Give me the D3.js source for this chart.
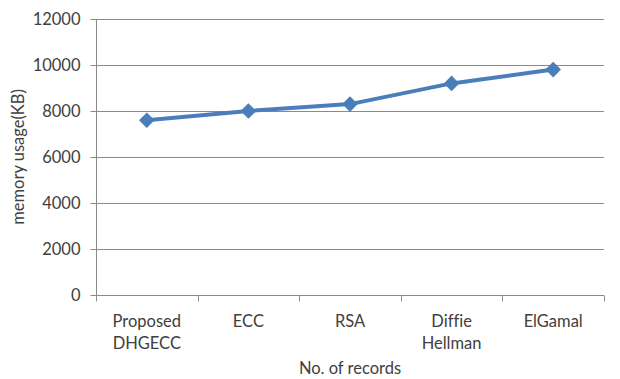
<!DOCTYPE html>
<html>
<head>
<meta charset="utf-8">
<script src="https://cdn.jsdelivr.net/npm/d3@7"></script>
<style>
  html, body { margin: 0; padding: 0; background: #fff; }
  svg { display: block; }
  text { font-family: Lato, "Open Sans", sans-serif; fill: #404040; font-variant-ligatures: none; }
</style>
</head>
<body>
<svg id="chart" width="620" height="379"></svg>
<script>
// Memory usage per scheme
const categories = [["Proposed", "DHGECC"], ["ECC"], ["RSA"], ["Diffie", "Hellman"], ["ElGamal"]];
const memoryKB = [7600, 8000, 8300, 9200, 9800];
const yTicks = [0, 2000, 4000, 6000, 8000, 10000, 12000];

const svg = d3.select("#chart");
const margin = { left: 96, right: 16, top: 19, bottom: 84 };
const W = 620, H = 379;
const x0 = margin.left, x1 = W - margin.right, y0 = H - margin.bottom, y1 = margin.top;
const fs = 16.5;

const keys = categories.map((c, i) => i);
const x = d3.scaleBand().domain(keys).range([x0, x1]);
const y = d3.scaleLinear().domain([0, 12000]).range([y0, y1]);

const gridColor = "#8a8a8a";

// horizontal gridlines
svg.append("g").selectAll("line").data(yTicks.filter(t => t > 0)).join("line")
  .attr("x1", x0).attr("x2", x1)
  .attr("y1", d => Math.round(y(d)) + 0.5).attr("y2", d => Math.round(y(d)) + 0.5)
  .attr("stroke", gridColor).attr("stroke-width", 1);

// y axis
const yAxis = svg.append("g").attr("transform", `translate(${x0 + 0.5},0)`)
  .call(d3.axisLeft(y).tickValues(yTicks).tickSize(6).tickPadding(10).tickFormat(d3.format("d")));
yAxis.select(".domain").attr("stroke", gridColor).attr("d", `M0,${y1}V${y0 + 6}`);
yAxis.selectAll(".tick line").attr("stroke", gridColor);
yAxis.selectAll(".tick text").attr("font-size", fs).attr("font-family", "Lato").attr("fill", "#404040");

// x axis
const xAxisG = svg.append("g").attr("transform", `translate(0,${Math.round(y0) + 0.5})`);
xAxisG.append("line").attr("x1", x0).attr("x2", x1).attr("stroke", gridColor);
const bounds = keys.map(k => x(k)).concat([x1]);
xAxisG.selectAll("line.tk").data(bounds).join("line").attr("class", "tk")
  .attr("x1", d => Math.round(d) + 0.5).attr("x2", d => Math.round(d) + 0.5)
  .attr("y1", 0).attr("y2", 6).attr("stroke", gridColor);
const lbl = xAxisG.selectAll("text.cat").data(categories).join("text").attr("class", "cat")
  .attr("text-anchor", "middle").attr("font-size", fs)
  .attr("x", (d, i) => x(i) + x.bandwidth() / 2)
  .attr("y", 31);
lbl.selectAll("tspan").data(d => d).join("tspan")
  .attr("x", function() { return d3.select(this.parentNode).attr("x"); })
  .attr("dy", (d, i) => i === 0 ? 0 : 22)
  .text(d => d);

// axis titles
svg.append("text").attr("x", (x0 + x1) / 2).attr("y", 374).attr("text-anchor", "middle")
  .attr("font-size", fs).text("No. of records");
svg.append("text").attr("transform", `translate(24,${(y0 + y1) / 2}) rotate(-90)`)
  .attr("text-anchor", "middle").attr("font-size", fs).text("memory usage(KB)");

// series line
const cx = i => x(i) + x.bandwidth() / 2;
const lineColor = "#4a7ebb";
svg.append("path").datum(memoryKB)
  .attr("d", d3.line().x((d, i) => cx(i)).y(d => y(d)))
  .attr("fill", "none").attr("stroke", lineColor).attr("stroke-width", 4)
  .attr("stroke-linejoin", "round");

// diamond markers
svg.append("g").selectAll("path").data(memoryKB).join("path")
  .attr("transform", (d, i) => `translate(${cx(i)},${y(d)}) rotate(45)`)
  .attr("d", "M-5,-5H5V5H-5Z")
  .attr("fill", lineColor).attr("stroke", lineColor).attr("stroke-width", 1);
</script>
</body>
</html>
